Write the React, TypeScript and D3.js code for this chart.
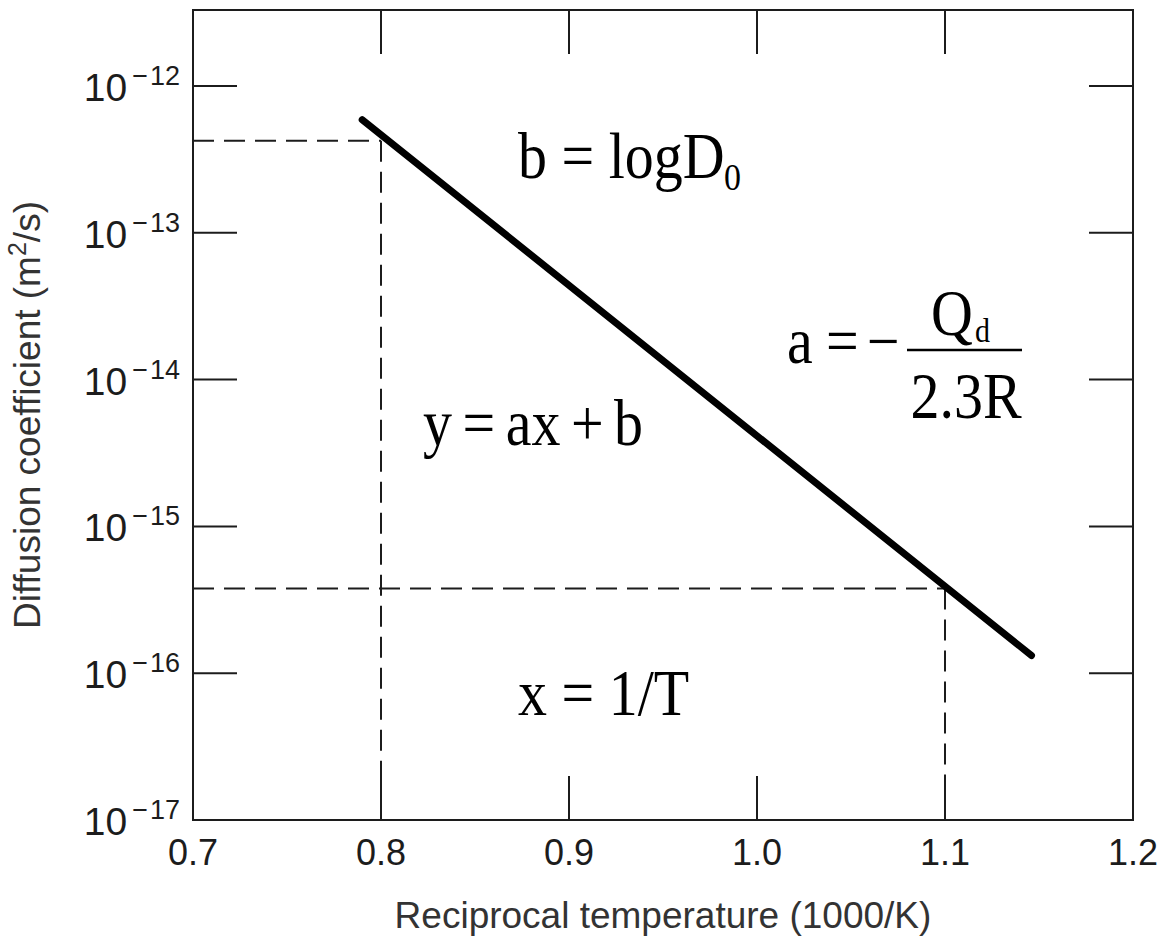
import { useEffect, useRef } from "react";
import * as d3 from "d3";

// x axis: reciprocal temperature (1000/K)
const xTicks = [0.7, 0.8, 0.9, 1.0, 1.1, 1.2];
// y axis: decades of the diffusion coefficient
const yExponents = [-17, -16, -15, -14, -13, -12];
// the Arrhenius line (end points)
const lineX = [0.79, 1.146];
const lineD = [5.89e-13, 1.32e-16];
// dashed read-off guides
const guideX = [0.8, 1.1];
const guideD = [4.24e-13, 3.78e-16];

const W = 1169;
const H = 945;
const SANS = "'Liberation Sans', Arial, sans-serif";
const SERIF = "'Liberation Serif', 'Times New Roman', serif";
const STRETCH = 1.12; // the serif formulas are drawn a bit taller than wide

export default function App() {
  const svgRef = useRef<SVGSVGElement | null>(null);

  useEffect(() => {
    if (!svgRef.current) return;
    const svg = d3.select(svgRef.current);
    svg.selectAll("*").remove();

    const left = 193, right = 1133, top = 10, bottom = 820;
    const x = d3.scaleLinear().domain([0.7, 1.2]).range([left, right]);
    const y = d3.scaleLog().domain([1e-17, Math.pow(10, -11.482)]).range([bottom, top]);
    const tickLen = 44;
    const ink = "#1c1c1c";

    // frame
    svg.append("rect")
      .attr("x", left).attr("y", top)
      .attr("width", right - left).attr("height", bottom - top)
      .attr("fill", "none").attr("stroke", ink).attr("stroke-width", 2);

    // inner ticks on all four sides
    const innerX = xTicks.slice(1, -1);
    const innerY = yExponents.slice(1).map((e) => Math.pow(10, e));
    const ticks = svg.append("g").attr("stroke", ink).attr("stroke-width", 2);
    innerX.forEach((v) => {
      ticks.append("line").attr("x1", x(v)).attr("x2", x(v)).attr("y1", bottom).attr("y2", bottom - tickLen);
      ticks.append("line").attr("x1", x(v)).attr("x2", x(v)).attr("y1", top).attr("y2", top + tickLen);
    });
    innerY.forEach((v) => {
      ticks.append("line").attr("x1", left).attr("x2", left + tickLen).attr("y1", y(v)).attr("y2", y(v));
      ticks.append("line").attr("x1", right).attr("x2", right - tickLen).attr("y1", y(v)).attr("y2", y(v));
    });

    // x tick labels
    svg.append("g")
      .selectAll("text")
      .data(xTicks)
      .join("text")
      .attr("x", (d) => x(d))
      .attr("y", bottom + 45)
      .attr("text-anchor", "middle")
      .attr("font-family", SANS)
      .attr("font-size", 36)
      .attr("fill", ink)
      .text((d) => d.toFixed(1));

    // y tick labels 10^-n
    const yl = svg.append("g")
      .selectAll("text")
      .data(yExponents)
      .join("text")
      .attr("x", left - 13)
      .attr("y", (d) => y(Math.pow(10, d)) + 15)
      .attr("text-anchor", "end")
      .attr("font-family", SANS)
      .attr("fill", ink);
    yl.append("tspan").attr("font-size", 39).text("10");
    yl.append("tspan").attr("font-size", 27).attr("dy", -16).attr("dx", 5).text("\u2212");
    yl.append("tspan").attr("font-size", 27).attr("dx", 2).text((d) => `${-d}`);

    // dashed guides
    const dash = svg.append("g")
      .attr("stroke", ink).attr("stroke-width", 2).attr("fill", "none")
      .attr("stroke-dasharray", "21,10");
    guideX.forEach((gx, i) => {
      const gy = y(guideD[i]);
      dash.append("line").attr("x1", left).attr("x2", x(gx)).attr("y1", gy).attr("y2", gy);
      dash.append("line").attr("x1", x(gx)).attr("x2", x(gx)).attr("y1", gy).attr("y2", bottom);
    });

    // main line
    const pts = lineX.map((v, i) => [v, lineD[i]] as [number, number]);
    svg.append("path")
      .datum(pts)
      .attr("d", d3.line<[number, number]>().x((d) => x(d[0])).y((d) => y(d[1])))
      .attr("stroke", "#000").attr("stroke-width", 7)
      .attr("stroke-linecap", "round").attr("fill", "none");

    // axis titles
    svg.append("text")
      .attr("x", (left + right) / 2).attr("y", 928)
      .attr("text-anchor", "middle")
      .attr("font-family", SANS).attr("font-size", 37).attr("fill", "#333")
      .text("Reciprocal temperature (1000/K)");

    const yt = svg.append("text")
      .attr("transform", `translate(40,${(top + bottom) / 2}) rotate(-90)`)
      .attr("text-anchor", "middle")
      .attr("font-family", SANS).attr("font-size", 37).attr("fill", "#333");
    yt.append("tspan").text("Diffusion coefficient (m");
    yt.append("tspan").attr("font-size", 25).attr("dy", -14).text("2");
    yt.append("tspan").attr("dy", 14).text("/s)");

    // equations
    const eq = svg.append("g").attr("font-family", SERIF).attr("fill", "#000");
    const formula = (tx: number, ty: number, size: number, s: string, anchor = "start") =>
      eq.append("text")
        .attr("transform", `translate(${tx},${ty}) scale(1,${STRETCH})`)
        .attr("font-size", size)
        .attr("text-anchor", anchor)
        .text(s);

    formula(518, 178, 58, "b = logD");
    formula(724, 190, 34, "0");
    formula(423, 445, 58, "y = ax + b").attr("word-spacing", -4);
    formula(518, 715, 58, "x = 1/T");

    formula(787, 363, 58, "a");
    formula(826, 363, 58, "=");
    formula(867, 363, 58, "\u2212");
    eq.append("line").attr("x1", 907).attr("x2", 1022).attr("y1", 350).attr("y2", 350)
      .attr("stroke", "#000").attr("stroke-width", 2.5);
    formula(931, 335, 58, "Q");
    formula(975, 342, 30, "d");
    formula(966, 418, 58, "2.3R", "middle");
  }, []);

  return (
    <svg
      ref={svgRef}
      width={W}
      height={H}
      style={{ position: "absolute", left: 0, top: 0, background: "#fff", display: "block" }}
    />
  );
}
